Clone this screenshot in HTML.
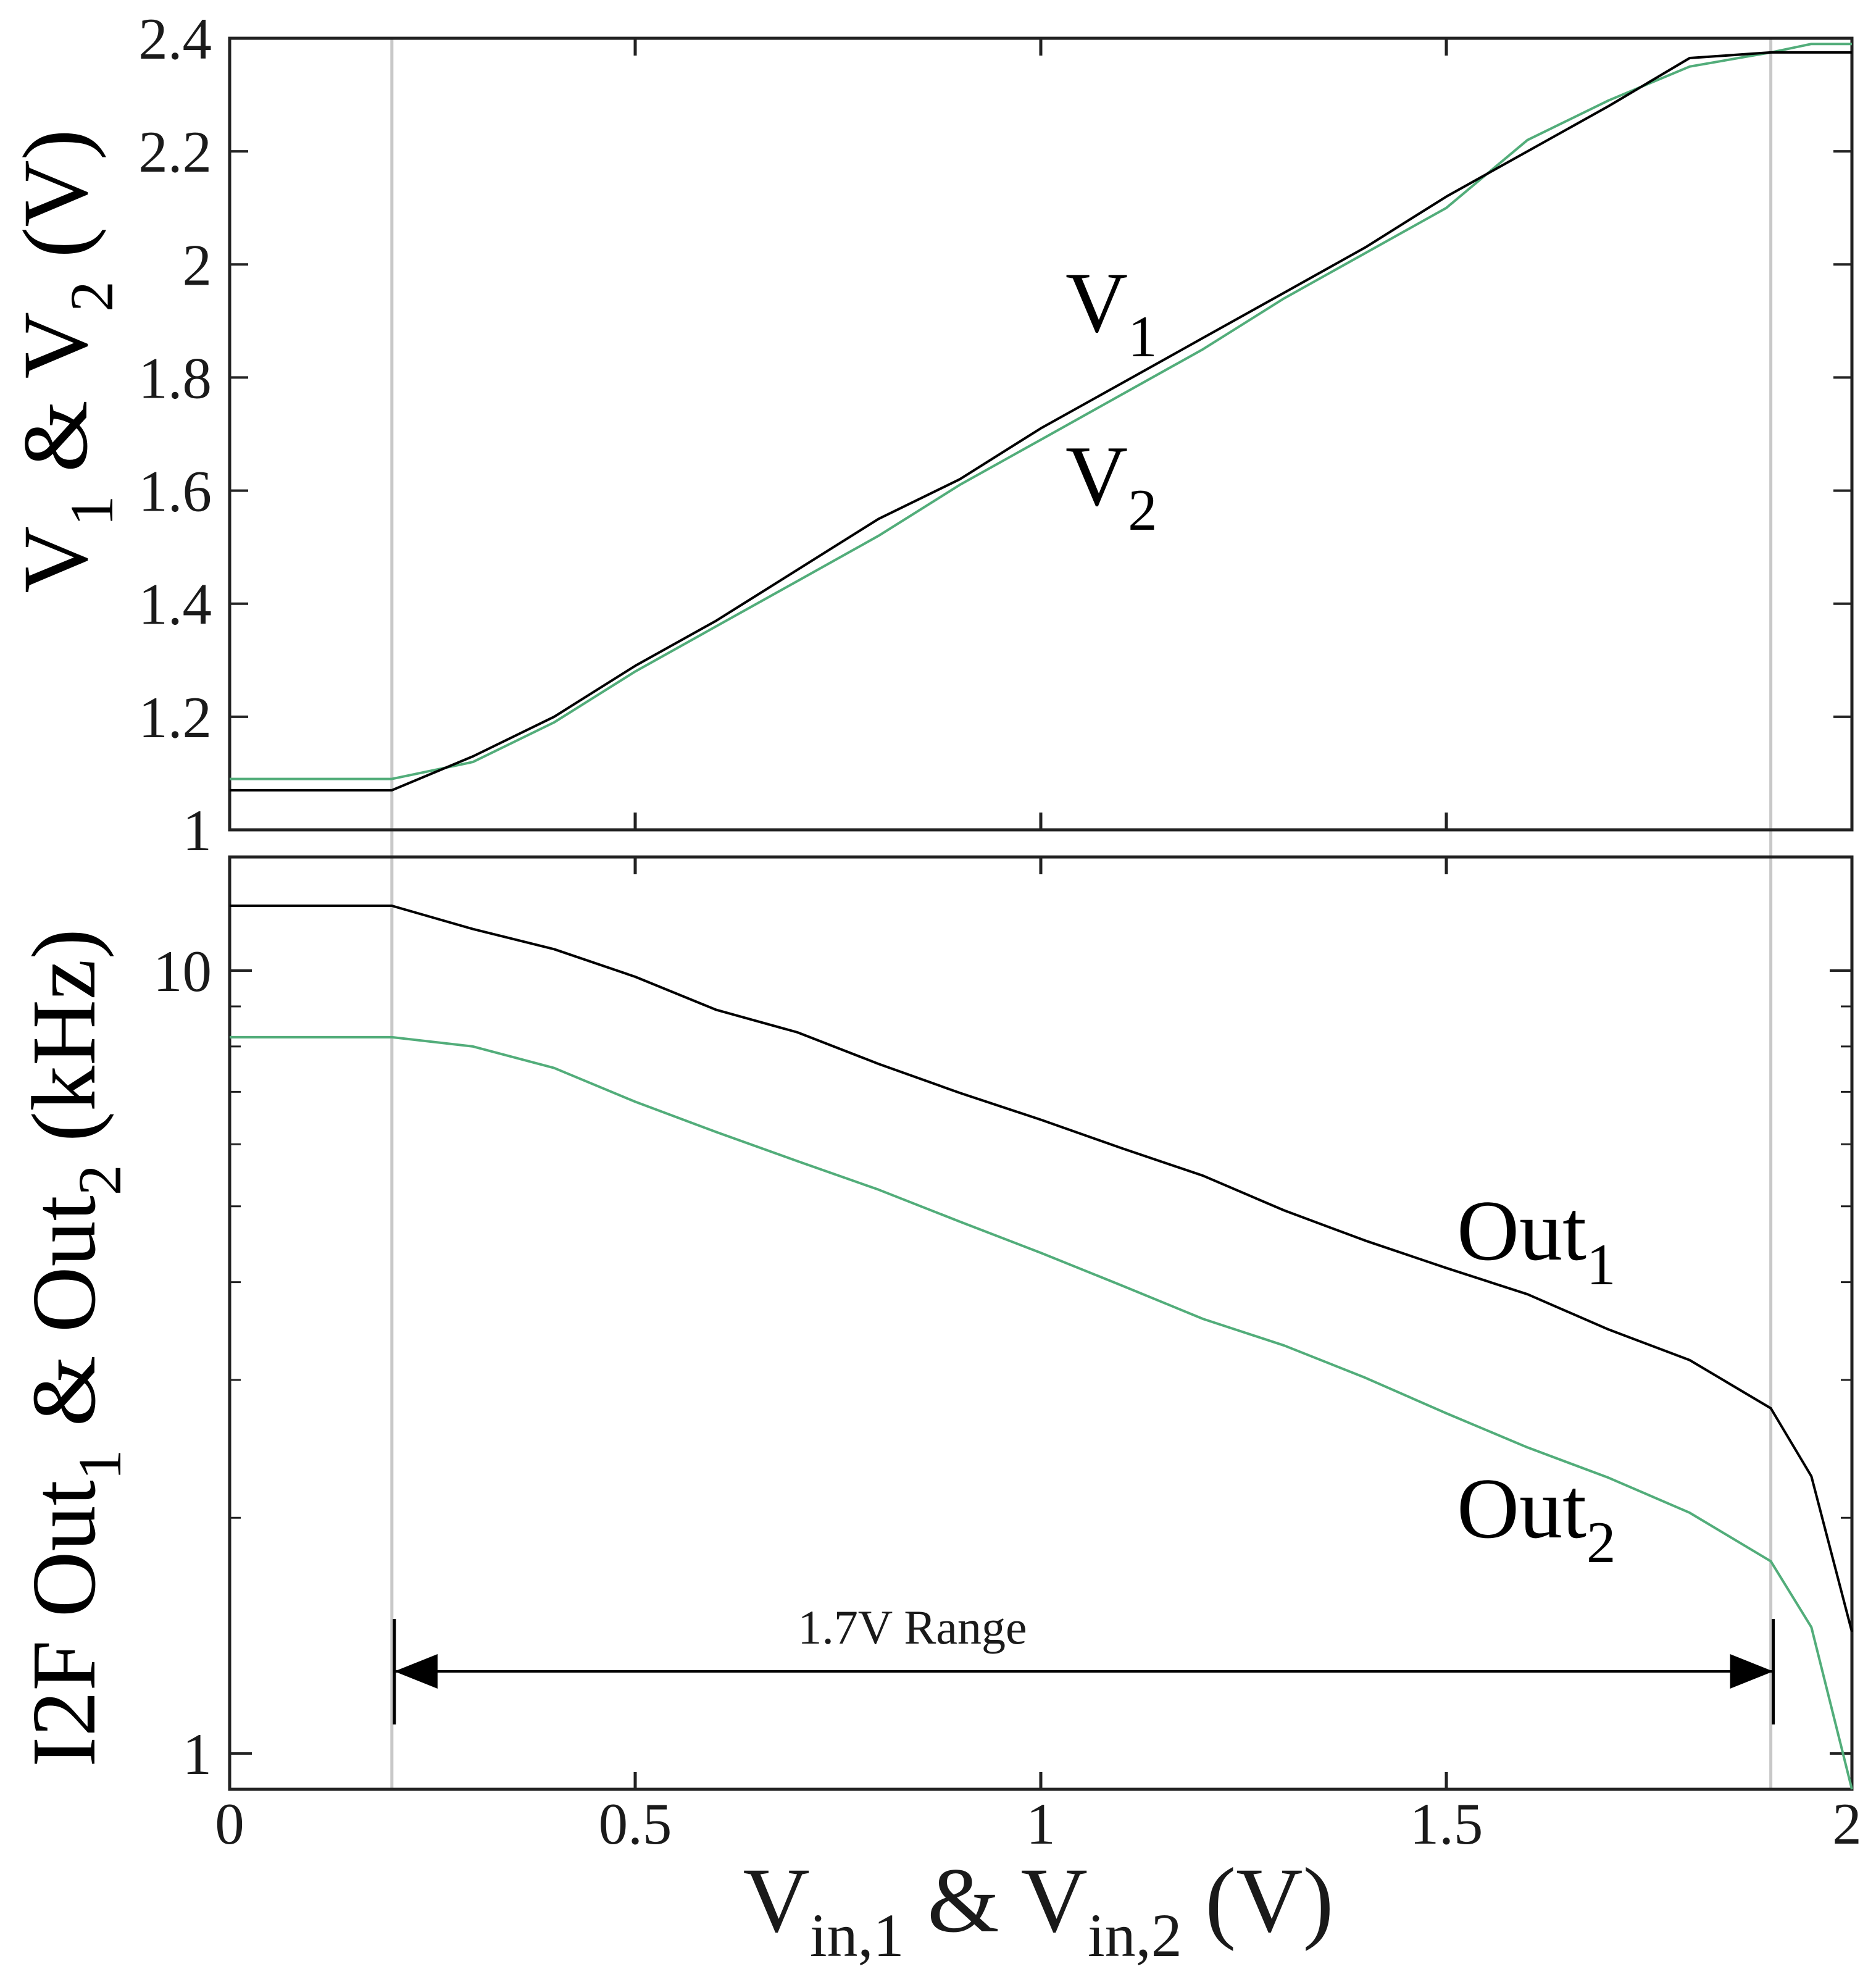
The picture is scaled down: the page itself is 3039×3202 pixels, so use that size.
<!DOCTYPE html>
<html><head><meta charset="utf-8">
<style>
html,body{margin:0;padding:0;background:#fff;}
svg{display:block;font-family:"Liberation Serif",serif;}
</style></head>
<body>
<svg id="chart" width="3039" height="3202" viewBox="0 0 3039 3202" xmlns="http://www.w3.org/2000/svg"></svg>
<script>
const xVals = [0, 0.2, 0.3, 0.4, 0.5, 0.6, 0.7, 0.8, 0.9, 1.0, 1.1, 1.2, 1.3, 1.4, 1.5, 1.6, 1.7, 1.8, 1.9, 1.95, 2.0];
const v1Vals = [1.07, 1.07, 1.13, 1.20, 1.29, 1.37, 1.46, 1.55, 1.62, 1.71, 1.79, 1.87, 1.95, 2.03, 2.12, 2.20, 2.28, 2.365, 2.375, 2.375, 2.375];
const v2Vals = [1.09, 1.09, 1.12, 1.19, 1.28, 1.36, 1.44, 1.52, 1.61, 1.69, 1.77, 1.85, 1.94, 2.02, 2.10, 2.22, 2.29, 2.35, 2.375, 2.39, 2.39];
const out1Vals = [12.1, 12.1, 11.3, 10.65, 9.82, 8.91, 8.34, 7.6, 6.98, 6.45, 5.93, 5.47, 4.94, 4.52, 4.17, 3.86, 3.48, 3.18, 2.76, 2.26, 1.43];
const out2Vals = [8.22, 8.22, 8.0, 7.51, 6.8, 6.22, 5.71, 5.25, 4.78, 4.36, 3.96, 3.59, 3.32, 3.02, 2.72, 2.46, 2.25, 2.03, 1.76, 1.45, 0.90];
const xTicks = [0, 0.5, 1, 1.5, 2];
const xTickLabels = ["0", "0.5", "1", "1.5", "2"];
const vTicks = [1, 1.2, 1.4, 1.6, 1.8, 2, 2.2, 2.4];
const vTickLabels = ["1", "1.2", "1.4", "1.6", "1.8", "2", "2.2", "2.4"];
const fMajor = [1, 10];
const fMajorLabels = ["1", "10"];
const fMinor = [2, 3, 4, 5, 6, 7, 8, 9];
const markers = [0.2, 1.9];

const NS = "http://www.w3.org/2000/svg";
const svg = document.getElementById("chart");
const L = 372, R = 3000, T1 = 62, B1 = 1344, T2 = 1388, B2 = 2898;
const xS = x => L + x / 2 * (R - L);
const vS = v => B1 - (v - 1) / 1.4 * (B1 - T1);
const fS = f => 1572 - Math.log10(f / 10) * 1268;

function mk(tag, attrs, parent) {
  const e = document.createElementNS(NS, tag);
  for (const k in attrs) e.setAttribute(k, attrs[k]);
  (parent || svg).appendChild(e);
  return e;
}
function txt(x, y, s, size, anchor, name) {
  const t = mk("text", {x: x, y: y, "font-size": size, "text-anchor": anchor || "start", fill: "#1a1a1a"});
  t.textContent = s;
  
  
  return t;
}

markers.forEach(m => {
  const l = mk("line", {x1: xS(m), x2: xS(m), y1: T1, y2: B2, stroke: "#c8c8c8", "stroke-width": 5});
  
  
});

[[T1, B1, 'top-plot-frame'], [T2, B2, 'bottom-plot-frame']].forEach(([t, b, n]) => {
  const r = mk("rect", {x: L, y: t, width: R - L, height: b - t, fill: "none", stroke: "#222", "stroke-width": 5});
  
  
  xTicks.forEach(x => {
    const X = xS(x);
    mk("line", {x1: X, x2: X, y1: b, y2: b - 28, stroke: "#222", "stroke-width": 5});
    mk("line", {x1: X, x2: X, y1: t, y2: t + 28, stroke: "#222", "stroke-width": 5});
  });
});

vTicks.forEach((v, i) => {
  const Y = vS(v);
  mk("line", {x1: L, x2: L + 30, y1: Y, y2: Y, stroke: "#222", "stroke-width": 4});
  mk("line", {x1: R, x2: R - 30, y1: Y, y2: Y, stroke: "#222", "stroke-width": 4});
  txt(343, Y + 33, vTickLabels[i], 95, "end", "y-tick-label-top");
});
fMajor.forEach((f, i) => {
  const Y = fS(f);
  mk("line", {x1: L, x2: L + 36, y1: Y, y2: Y, stroke: "#222", "stroke-width": 4});
  mk("line", {x1: R, x2: R - 36, y1: Y, y2: Y, stroke: "#222", "stroke-width": 4});
  txt(343, Y + 33, fMajorLabels[i], 95, "end", "y-tick-label-bottom");
});
fMinor.forEach(f => {
  const Y = fS(f);
  mk("line", {x1: L, x2: L + 18, y1: Y, y2: Y, stroke: "#222", "stroke-width": 3});
  mk("line", {x1: R, x2: R - 18, y1: Y, y2: Y, stroke: "#222", "stroke-width": 3});
});
xTicks.forEach((x, i) => {
  let X = xS(x);
  if (i === xTicks.length - 1) X -= 8;
  txt(X, 2986, xTickLabels[i], 95, "middle", "x-tick-label");
});

function series(vals, scale, color, name) {
  const pts = xVals.map((x, i) => xS(x).toFixed(1) + "," + scale(vals[i]).toFixed(1)).join(" ");
  const p = mk("polyline", {points: pts, fill: "none", stroke: color, "stroke-width": 4, "stroke-linejoin": "round"});
  
  
}
series(v2Vals, vS, "#52ad7a", "v2-line");
series(v1Vals, vS, "#000", "v1-line");
series(out2Vals, fS, "#52ad7a", "out2-line");
series(out1Vals, fS, "#000", "out1-line");

const ay = 2707, ax1 = xS(0.2) + 4, ax2 = xS(1.9) + 4;
mk("line", {x1: ax1, x2: ax1, y1: 2622, y2: 2793, stroke: "#000", "stroke-width": 5});
mk("line", {x1: ax2, x2: ax2, y1: 2622, y2: 2793, stroke: "#000", "stroke-width": 5});
const al = mk("line", {x1: ax1, x2: ax2, y1: ay, y2: ay, stroke: "#000", "stroke-width": 4});


mk("polygon", {points: `${ax1},${ay} ${ax1+70},${ay-28} ${ax1+70},${ay+28}`, fill: "#000"});
mk("polygon", {points: `${ax2},${ay} ${ax2-70},${ay-28} ${ax2-70},${ay+28}`, fill: "#000"});
txt(1478, 2662, "1.7V Range", 78, "middle", "range-label");
</script>
<svg width="3039" height="3202" style="position:absolute;left:0;top:0" font-family="Liberation Serif, serif">
  <text x="1726" y="537" font-size="140" fill="#000">V<tspan dy="40" font-size="95">1</tspan></text>
  <text x="1726" y="818" font-size="140" fill="#000">V<tspan dy="40" font-size="95">2</tspan></text>
  <text x="2360" y="2040" font-size="140" fill="#000">Out<tspan dy="40" font-size="95">1</tspan></text>
  <text x="2360" y="2490" font-size="140" fill="#000">Out<tspan dy="40" font-size="95">2</tspan></text>
  <text x="1682" y="3128" font-size="150" text-anchor="middle" fill="#1a1a1a">V<tspan dy="40" font-size="100">in,1</tspan><tspan dy="-40"> &amp; V</tspan><tspan dy="40" font-size="100">in,2</tspan><tspan dy="-40"> (V)</tspan></text>
  <text transform="translate(140,585) rotate(-90)" font-size="150" text-anchor="middle" fill="#000">V<tspan dy="42" font-size="100">1</tspan><tspan dy="-42"> &amp; V</tspan><tspan dy="42" font-size="100">2</tspan><tspan dy="-42"> (V)</tspan></text>
  <text transform="translate(153,2183) rotate(-90)" font-size="148" text-anchor="middle" fill="#000">I2F Out<tspan dy="42" font-size="100">1</tspan><tspan dy="-42"> &amp; Out</tspan><tspan dy="42" font-size="100">2</tspan><tspan dy="-42"> (kHz)</tspan></text>
</svg>
</body></html>
